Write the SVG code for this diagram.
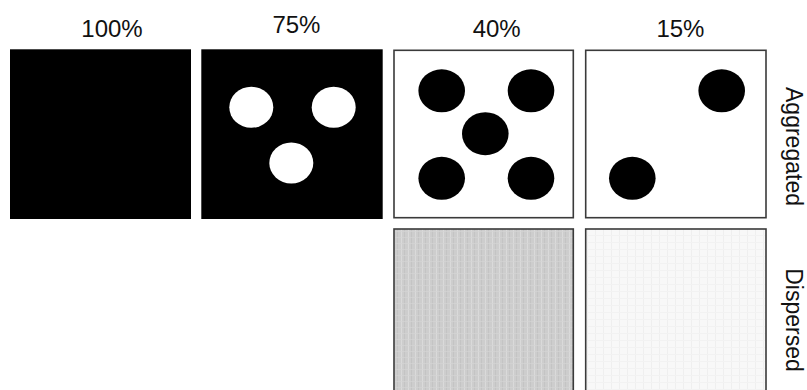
<svg xmlns="http://www.w3.org/2000/svg" width="807" height="390" viewBox="0 0 807 390">
<defs>
<style>
.lbl{font-family:"Liberation Sans",Arial,sans-serif;font-size:24px;fill:#111;}
.side{font-size:23px;}
.blk{fill:#000;}
.frame{stroke:#3a3a3a;stroke-width:1.6;}
.wdot{fill:#fff;}
.bdot{fill:#000;}
</style>
<pattern id="texA" width="7" height="6" patternUnits="userSpaceOnUse">
<rect width="7" height="6" fill="#cdcdcd"/>
<rect x="2" width="1" height="6" fill="#dadada"/>
<rect x="5" width="1" height="6" fill="#c4c4c4"/>
<rect y="3" width="7" height="1" fill="#d5d5d5" opacity="0.7"/>
</pattern>
<pattern id="texB" width="8" height="7" patternUnits="userSpaceOnUse">
<rect width="8" height="7" fill="#f8f8f8"/>
<rect x="3" width="1" height="7" fill="#efefef"/>
<rect y="4" width="8" height="1" fill="#f2f2f2"/>
</pattern>
</defs>
<rect width="807" height="390" fill="#fff"/>
<g id="titles">
<text class="lbl" x="112" y="36.7" text-anchor="middle">100%</text>
<text class="lbl" x="296.4" y="32.7" text-anchor="middle">75%</text>
<text class="lbl" x="496.7" y="36.7" text-anchor="middle">40%</text>
<text class="lbl" x="680.4" y="36.7" text-anchor="middle">15%</text>
</g>
<g id="row-labels">
<text class="lbl side" text-anchor="middle" transform="translate(785.5,146.5) rotate(90)">Aggregated</text>
<text class="lbl side" text-anchor="middle" transform="translate(785.5,320) rotate(90)">Dispersed</text>
</g>
<g id="panel-100-aggregated">
<rect class="blk" x="10" y="49.3" width="181" height="169.7"/>
</g>
<g id="panel-75-aggregated">
<rect class="blk" x="201.3" y="49.3" width="181.4" height="169.7"/>
<ellipse class="wdot" cx="251.3" cy="107.3" rx="22" ry="20.5"/>
<ellipse class="wdot" cx="333.7" cy="107.3" rx="22" ry="20.5"/>
<ellipse class="wdot" cx="291.3" cy="163" rx="22" ry="20.5"/>
</g>
<g id="panel-40-aggregated">
<rect class="frame" x="394" y="50.3" width="179.3" height="167.4" fill="#fff"/>
<ellipse class="bdot" cx="441.7" cy="90.8" rx="23.3" ry="21.5"/>
<ellipse class="bdot" cx="531" cy="90.8" rx="23.3" ry="21.5"/>
<ellipse class="bdot" cx="485.3" cy="133.7" rx="23.3" ry="21.5"/>
<ellipse class="bdot" cx="441.7" cy="178.3" rx="23.3" ry="21.5"/>
<ellipse class="bdot" cx="531" cy="178.3" rx="23.3" ry="21.5"/>
</g>
<g id="panel-15-aggregated">
<rect class="frame" x="585.7" y="50.3" width="180.3" height="167.4" fill="#fff"/>
<ellipse class="bdot" cx="721.7" cy="90.8" rx="23.3" ry="21.5"/>
<ellipse class="bdot" cx="632.3" cy="178.3" rx="23.3" ry="21.5"/>
</g>
<g id="panel-40-dispersed">
<rect class="frame" x="394" y="229" width="179.3" height="170" fill="url(#texA)"/>
</g>
<g id="panel-15-dispersed">
<rect class="frame" x="585.7" y="229" width="180.3" height="170" fill="url(#texB)"/>
</g>
</svg>
